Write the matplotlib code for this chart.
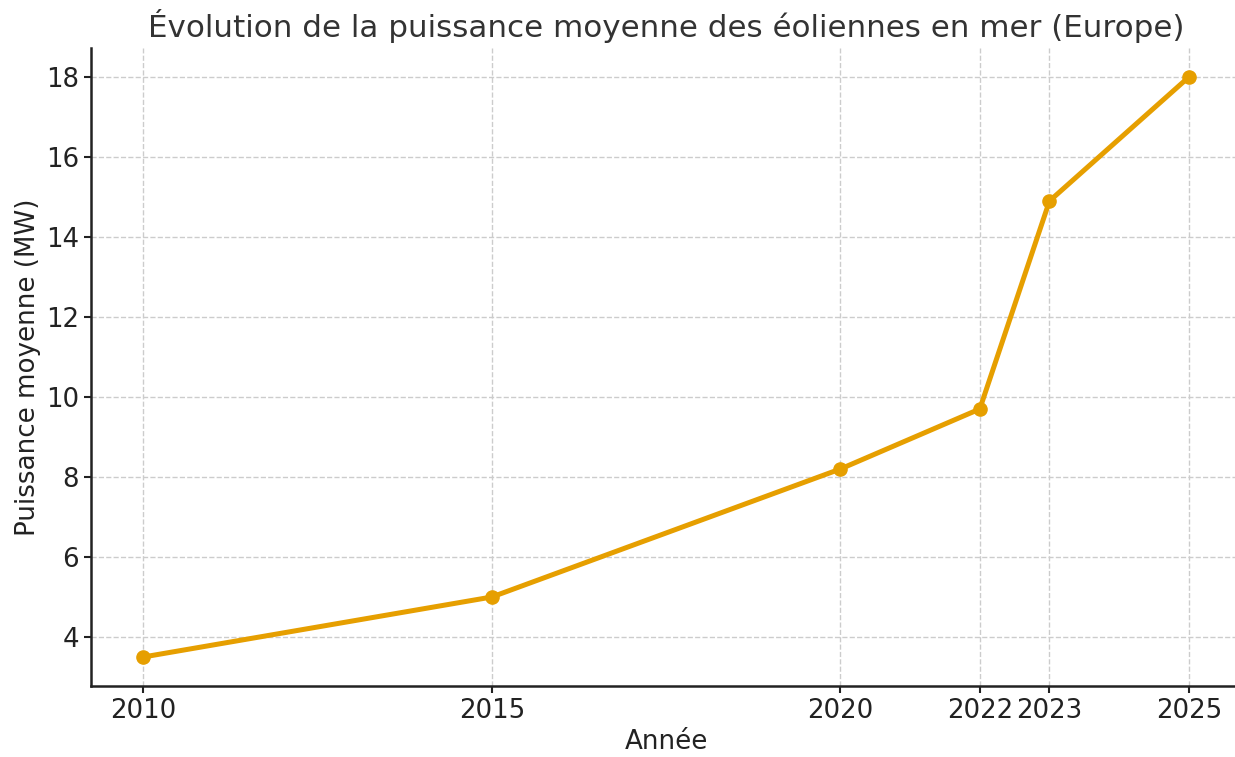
import matplotlib
matplotlib.use('Agg')
import matplotlib.pyplot as plt

years = [2010, 2015, 2020, 2022, 2023, 2025]
power_mw = [3.5, 5.0, 8.2, 9.7, 14.9, 18.0]

fig, ax = plt.subplots(figsize=(12.35, 7.57), dpi=100)
fig.subplots_adjust(left=0.0737, right=1.005, top=0.9366, bottom=0.0938)

ax.plot(years, power_mw, color='#E69F00', linewidth=3.6, marker='o', markersize=9.5)

ax.set_title("Évolution de la puissance moyenne des éoliennes en mer (Europe)",
             fontsize=22.3, color='#333333', pad=8)
ax.set_xlabel("Année", fontsize=18.8, color='#222222')
ax.set_ylabel("Puissance moyenne (MW)", fontsize=18.8, color='#222222')
ax.set_xticks(years)
ax.set_xticklabels([str(y) for y in years])
ax.tick_params(labelsize=18.7, colors='#222222', width=1.5, length=5)
ax.grid(True, linestyle='--', color='#cccccc', linewidth=1)

for side in ['top', 'right']:
    ax.spines[side].set_visible(False)
for side in ['left', 'bottom']:
    ax.spines[side].set_linewidth(1.8)
    ax.spines[side].set_color('#222222')

fig.savefig('out.png', dpi=100)
